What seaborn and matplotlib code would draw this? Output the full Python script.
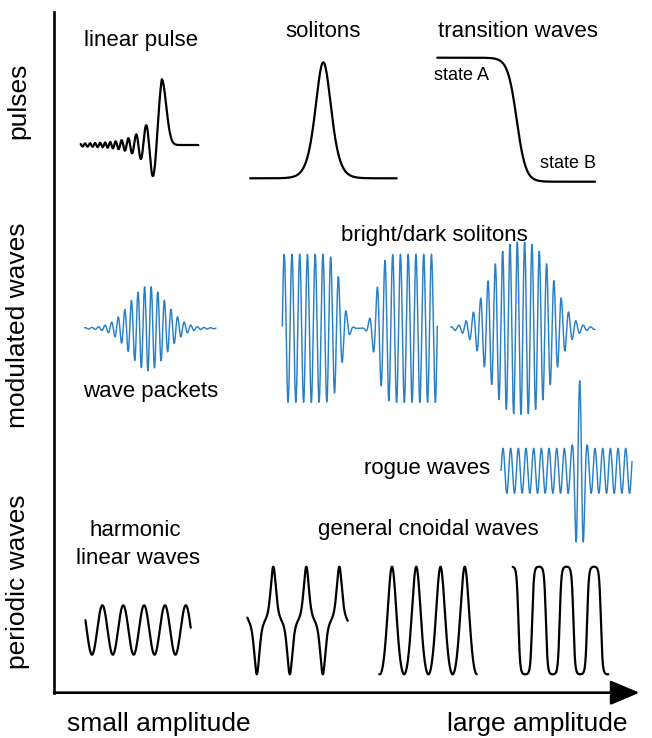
import numpy as np
import pandas as pd
import matplotlib
matplotlib.use("Agg")
import matplotlib.pyplot as plt
import seaborn as sns

# the canvas is laid out in pixel units of the 652x738 picture (y grows downward)
W, H = 652, 738
BLACK = "#000000"
BLUE = "#2a80c6"

# === text ===
row_labels = ["pulses", "modulated waves", "periodic waves"]
row_label_y = [101, 325, 582]
amp_labels = ["small amplitude", "large amplitude"]
amp_label_x = [159, 537]
titles = ["linear pulse", "solitons", "transition waves", "bright/dark solitons",
          "wave packets", "rogue waves", "harmonic", "linear waves",
          "general cnoidal waves"]
title_x = [141.5, 322.7, 517.5, 434, 151, 427, 135, 138, 428.8]
title_y = [40.7, 31.7, 31.7, 235, 391.7, 468.3, 530, 558.3, 530]
state_labels = ["state A", "state B"]
state_x = [461.3, 568]
state_y = [75, 164]

# === pulses ===
pulse_span = [80.7, 198.3]
pulse_base, pulse_amp, pulse_crest = 145.0, 65.7, 161.7
pulse_chirp = [0.2546, 0.00927, 1.25]  # phase a*u + b*u^2 behind the crest, capped wavenumber
pulse_decay = [12.15, 0.882, 0.018]    # envelope scale, stretch, floor
pulse_front = 6.3

soliton_span = [250, 396.7]
soliton_base, soliton_amp, soliton_x0, soliton_w = 178.3, 116, 323.3, 10.6

front_span = [437.3, 595]
front_levels = [57.7, 181.7]
front_x0, front_w = 516.7, 9

# === modulated waves ===
mod_base = 328.3
packet_span = [84.6, 216]
packet_amp, packet_x0, packet_sigma, packet_period, packet_phase = 40, 148, 18, 6.6, 144.6

dark_span = [282.3, 437.3]
dark_amp, dark_x0, dark_width, dark_order, dark_period, dark_phase = 74, 359, 19.5, 3.2, 7.75, 284.2

bright_span = [450.7, 595]
bright_amp, bright_x0, bright_width, bright_order, bright_period, bright_phase = 80.5, 521, 39, 2.9, 7.33, 517.3

rogue_span = [501.1, 632]
rogue_base, rogue_amp, rogue_x0, rogue_period = 470.8, 22.5, 579.7, 7.67
rogue_boost, rogue_width, rogue_order = 3.0, 5.3, 3.1

# === periodic waves ===
harmonic_span = [85.4, 190.7]
harmonic_base, harmonic_amp, harmonic_period, harmonic_phase = 630, 24.7, 20.85, 102.4

cnoid_top, cnoid_bottom = 566.7, 674.3
cusp_span = [247.3, 347.7]
cusp_period, cusp_crest, cusp_width = 33, 273.3, 3.5
peaked_span = [379.3, 476.7]
peaked_period, peaked_crest, peaked_sharp = 24.25, 392, 0.6
square_span = [512.7, 608.3]
square_period, square_crest, square_sharp = 27.5, 539, 2.5

# axis frame
axis_x, axis_top, axis_y, arrow_tip = 54, 12, 692.7, 639.5


def span(s, n=1500):
    return np.linspace(s[0], s[1], n)


def sech(z):
    return 1.0 / np.cosh(z)


curves = []


def add(name, x, y, color, lw):
    curves.append((pd.DataFrame({"x": x, "y": y}), name, color, lw))


# linear pulse
x = span(pulse_span)
u = np.clip(pulse_crest - x, 0, None)
a, b, kmax = pulse_chirp
u1 = (kmax - a) / (2 * b)
phase = np.where(u < u1, a * u + b * u ** 2, a * u1 + b * u1 ** 2 + kmax * (u - u1))
env = pulse_decay[2] + (1 - pulse_decay[2]) * np.exp(-(u / pulse_decay[0]) ** pulse_decay[1])
ring = env * np.cos(phase)
ahead = np.exp(-((x - pulse_crest) / pulse_front) ** 2)
add("linear pulse", x, pulse_base - pulse_amp * np.where(x < pulse_crest, ring, ahead), BLACK, 1.6)

# soliton
x = span(soliton_span)
add("soliton", x, soliton_base - soliton_amp * sech((x - soliton_x0) / soliton_w) ** 2, BLACK, 1.6)

# transition wave
x = span(front_span)
step = 0.5 * (1 + np.tanh((x - front_x0) / front_w))
add("transition", x, front_levels[0] + (front_levels[1] - front_levels[0]) * step, BLACK, 1.6)

# wave packet
x = span(packet_span)
d = x - packet_x0
env = np.exp(-0.5 * (d / packet_sigma) ** 2) + 0.06 * np.exp(-np.abs(d) / 40)
add("packet", x, mod_base - packet_amp * env * np.cos(2 * np.pi * (x - packet_phase) / packet_period), BLUE, 1.05)

# dark soliton
x = span(dark_span, 3000)
env = 1 - np.exp(-(np.abs(x - dark_x0) / dark_width) ** dark_order)
add("dark", x, mod_base - dark_amp * env * np.cos(2 * np.pi * (x - dark_phase) / dark_period), BLUE, 1.05)

# bright soliton
x = span(bright_span, 3000)
d = np.abs(x - bright_x0)
env = np.exp(-(d / bright_width) ** bright_order) + 0.07 * np.exp(-(d / 55) ** 2)
add("bright", x, mod_base - bright_amp * env * np.cos(2 * np.pi * (x - bright_phase) / bright_period), BLUE, 1.05)

# rogue wave
x = span(rogue_span, 3000)
env = 1 + rogue_boost * np.exp(-(np.abs(x - rogue_x0) / rogue_width) ** rogue_order)
add("rogue", x, rogue_base - rogue_amp * env * np.cos(2 * np.pi * (x - rogue_x0) / rogue_period), BLUE, 1.05)

# harmonic linear wave
x = span(harmonic_span)
add("harmonic", x, harmonic_base - harmonic_amp * np.cos(2 * np.pi * (x - harmonic_phase) / harmonic_period), BLACK, 1.6)

mid, half = (cnoid_top + cnoid_bottom) / 2, (cnoid_bottom - cnoid_top) / 2

# cnoidal: cusped crests and troughs
x = span(cusp_span)
f = np.zeros_like(x)
for n in range(-3, 5):
    c = cusp_crest + n * cusp_period
    f += sech((x - c) / cusp_width) ** 2 - sech((x - c + cusp_period / 2) / cusp_width) ** 2
add("cusp", x, mid - half * f, BLACK, 1.6)

# cnoidal: peaked crests
x = span(peaked_span)
th = 2 * np.pi * (x - peaked_crest) / peaked_period
s = peaked_sharp
g = (np.exp(s * np.cos(th)) - np.exp(-s)) / (np.exp(s) - np.exp(-s))
add("peaked", x, cnoid_bottom - 2 * half * g, BLACK, 1.6)

# cnoidal: near-square
x = span(square_span)
th = 2 * np.pi * (x - square_crest) / square_period
g = np.tanh(square_sharp * np.cos(th)) / np.tanh(square_sharp)
add("square", x, mid - half * g, BLACK, 1.6)

# === drawing ===
sns.set_style("white")
plt.rcParams["font.family"] = ["Liberation Sans", "DejaVu Sans"]
plt.rcParams["text.color"] = BLACK

fig = plt.figure(figsize=(W / 100, H / 100), dpi=100)
ax = fig.add_axes([0, 0, 1, 1])

for df, name, color, lw in curves:
    sns.lineplot(data=df, x="x", y="y", sort=False, estimator=None,
                 color=color, linewidth=lw, ax=ax)

# axes with arrow
ax.plot([axis_x, axis_x], [axis_top, axis_y], color=BLACK, lw=1.9,
        solid_capstyle="projecting")
ax.annotate("", xy=(arrow_tip, axis_y), xytext=(axis_x, axis_y),
            arrowprops=dict(arrowstyle="-|>,head_length=0.9,head_width=0.38",
                            mutation_scale=20, lw=1.9, color=BLACK,
                            shrinkA=0, shrinkB=0))

for lab, yy in zip(row_labels, row_label_y):
    ax.text(18, yy, lab, rotation=90, fontsize=19, ha="center", va="center", color=BLACK)
for lab, xx in zip(amp_labels, amp_label_x):
    ax.text(xx, 724, lab, fontsize=19, ha="center", va="center", color=BLACK)
for lab, xx, yy in zip(titles, title_x, title_y):
    ax.text(xx, yy, lab, fontsize=16, ha="center", va="center", color=BLACK)
for lab, xx, yy in zip(state_labels, state_x, state_y):
    ax.text(xx, yy, lab, fontsize=13, ha="center", va="center", color=BLACK)

ax.set_xlim(0, W)
ax.set_ylim(H, 0)
ax.axis("off")

fig.savefig("out.png", dpi=100)
plt.close(fig)
